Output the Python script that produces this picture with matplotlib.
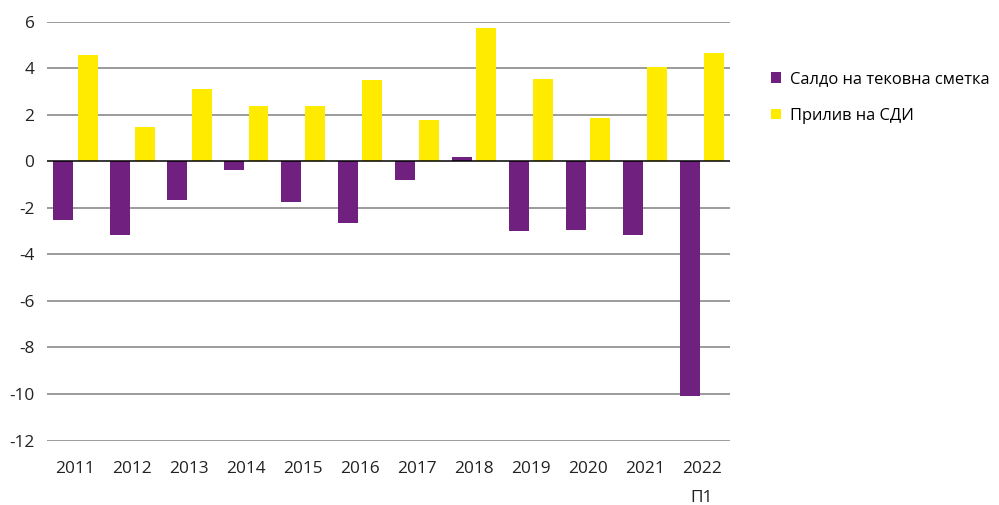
import matplotlib.pyplot as plt
import numpy as np

plt.rcParams['font.family'] = ['Open Sans', 'DejaVu Sans']

years = ['2011', '2012', '2013', '2014', '2015', '2016',
         '2017', '2018', '2019', '2020', '2021', '2022']
saldo = [-2.52, -3.17, -1.66, -0.37, -1.75, -2.65, -0.80, 0.20, -3.00, -2.95, -3.17, -10.09]
priliv = [4.57, 1.47, 3.11, 2.38, 2.38, 3.49, 1.78, 5.73, 3.54, 1.86, 4.04, 4.65]
yticks = [-12, -10, -8, -6, -4, -2, 0, 2, 4, 6]

purple = '#70207f'
yellow = '#ffeb00'

fig = plt.figure(figsize=(9.99, 5.05), dpi=100)
ax = fig.add_axes([0.047, 0.1277, 0.684, 0.8297])

x = np.arange(len(years))
w = 0.35
ax.bar(x - 0.215, saldo, w, color=purple, label='Салдо на тековна сметка', zorder=3)
ax.bar(x + 0.215, priliv, w, color=yellow, label='Прилив на СДИ', zorder=3)

ax.set_xlim(-0.5, len(years) - 0.5)
ax.set_ylim(-12, 6)
ax.set_yticks(yticks)
ax.set_yticklabels([str(v) for v in yticks])
ax.set_xticks(x)
ax.set_xticklabels(years)
for v in yticks:
    if v == 0:
        ax.axhline(v, color='black', lw=1.1, zorder=4)
    else:
        ax.axhline(v, color='#808080', lw=1.1, zorder=1)

for s in ax.spines.values():
    s.set_visible(False)
ax.tick_params(axis='both', length=0, labelsize=12.4, colors='#222222')
ax.tick_params(axis='y', pad=9)
ax.tick_params(axis='x', pad=15)

# second line of the last category label
ax.text(x[-1], -0.137, 'П1', transform=ax.get_xaxis_transform(),
        ha='center', va='center', fontsize=12.4, color='#222222')

ax.legend(loc='upper left', bbox_to_anchor=(1.05, 0.897), frameon=False,
          fontsize=11.9, handlelength=0.6, handleheight=0.6, handletextpad=0.55,
          labelspacing=1.25, borderaxespad=0)

fig.savefig('out.png', dpi=100)
